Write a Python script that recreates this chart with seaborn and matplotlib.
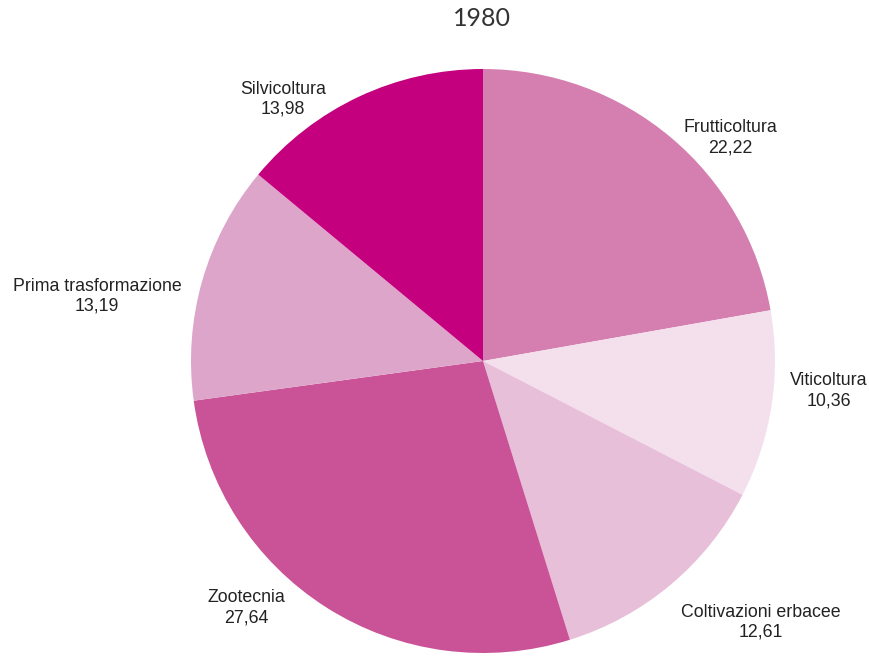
import matplotlib.pyplot as plt
import seaborn as sns

sns.set_theme(style="white")
plt.rcParams['font.family'] = ['Liberation Sans', 'DejaVu Sans']

title = "1980"
categories = ["Frutticoltura", "Viticoltura", "Coltivazioni erbacee",
              "Zootecnia", "Prima trasformazione", "Silvicoltura"]
values = [22.22, 10.36, 12.61, 27.64, 13.19, 13.98]
value_labels = ["22,22", "10,36", "12,61", "27,64", "13,19", "13,98"]

colors = ["#D57FB0", "#F4E0ED", "#E7BFD9", "#CA5398", "#DDA5C9", "#C5007E"]
# label centres in pie units (radius = 1)
label_xy = [(0.846, 0.765), (1.185, -0.103), (0.95, -0.895),
            (-0.81, -0.845), (-1.322, 0.222), (-0.685, 0.896)]

fig = plt.figure(figsize=(8.7, 6.56), dpi=100)
ax = fig.add_axes([0, 0, 1, 1])

wedges, _ = ax.pie(values, colors=colors, startangle=90, counterclock=False,
                   wedgeprops=dict(linewidth=0))

for name, lab, (x, y) in zip(categories, value_labels, label_xy):
    ax.text(x, y, f"{name}\n{lab}", ha="center", va="center", fontsize=12.8,
            color="#222222", linespacing=1.25)

ax.set_xlim(-483 / 292, (870 - 483) / 292)
ax.set_ylim(-(656 - 361) / 292, 361 / 292)
ax.set_aspect("auto")
ax.axis("off")

fig.text(0.554, 1 - 19 / 656, title, ha="center", va="center", fontsize=18,
         family=["Lato", "DejaVu Sans"], color="#333333")

fig.savefig("out.png", dpi=100)
